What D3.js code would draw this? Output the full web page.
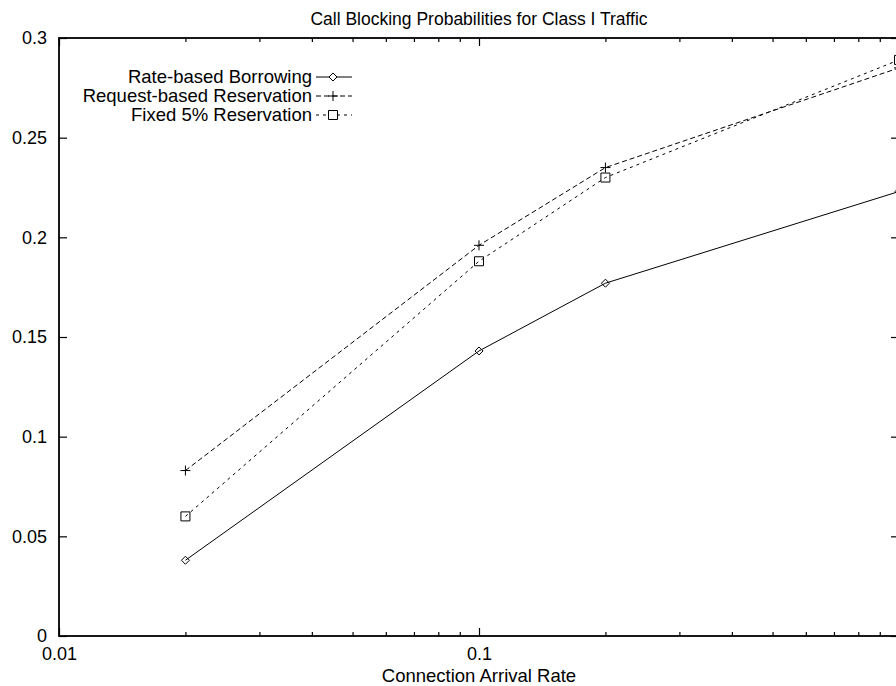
<!DOCTYPE html>
<html>
<head>
<meta charset="utf-8">
<script src="https://cdn.jsdelivr.net/npm/d3@7"></script>
<style>
  body { margin: 0; background: #fff; }
  svg { display: block; font-family: "Liberation Sans", Arial, Helvetica, sans-serif; }
</style>
</head>
<body>
<svg id="chart"></svg>
<script>
// data
const rates = [0.02, 0.1, 0.2, 1.0];
const rateBased = [0.038, 0.143, 0.177, 0.223];
const requestBased = [0.083, 0.196, 0.235, 0.285];
const fixed5 = [0.060, 0.188, 0.230, 0.289];

const seriesNames = ["Rate-based Borrowing", "Request-based Reservation", "Fixed 5% Reservation"];
const yTicks = [0, 0.05, 0.1, 0.15, 0.2, 0.25, 0.3];
const xMajor = [0.01, 0.1, 1];
const xLabelled = [0.01, 0.1];
const xMinor = [0.02, 0.03, 0.04, 0.05, 0.06, 0.07, 0.08, 0.09, 0.2, 0.3, 0.4, 0.5, 0.6, 0.7, 0.8, 0.9];

const width = 896, height = 686;
const margin = { top: 38, left: 59, bottom: 50, right: -3 };
const iwidth = width - margin.left - margin.right;
const iheight = height - margin.top - margin.bottom;
const tickFont = 18;
const labelFont = 18.5;

const svg = d3.select("#chart").attr("width", width).attr("height", height);
const g = svg.append("g").attr("transform", `translate(${margin.left},${margin.top})`);

const x = d3.scaleLog().domain([0.01, 1]).range([0, iwidth]);
const y = d3.scaleLinear().domain([0, 0.3]).range([iheight, 0]);

// axes, ticks pointing inward on all four sides
function styleAxis(sel) {
  sel.select(".domain").remove();
  sel.selectAll("line").attr("stroke", "#000").attr("stroke-width", 1.2);
  sel.selectAll("text").attr("fill", "#000").attr("font-size", tickFont).attr("font-family", "Liberation Sans, Arial, sans-serif");
}

g.append("g").attr("transform", `translate(0,${iheight})`)
  .call(d3.axisBottom(x).tickValues(xLabelled).tickSize(0).tickPadding(11).tickFormat(d3.format("")))
  .call(styleAxis);
g.append("g").attr("transform", `translate(0,${iheight})`)
  .call(d3.axisBottom(x).tickValues(xMajor).tickSize(-8).tickFormat(""))
  .call(styleAxis);
g.append("g").attr("transform", `translate(0,${iheight})`)
  .call(d3.axisBottom(x).tickValues(xMinor).tickSize(-4).tickFormat(""))
  .call(styleAxis);
g.append("g")
  .call(d3.axisTop(x).tickValues(xMajor).tickSize(-8).tickFormat(""))
  .call(styleAxis);
g.append("g")
  .call(d3.axisTop(x).tickValues(xMinor).tickSize(-4).tickFormat(""))
  .call(styleAxis);
g.append("g")
  .call(d3.axisLeft(y).tickValues(yTicks).tickSize(-8).tickPadding(12).tickFormat(d3.format("")))
  .call(styleAxis);
g.append("g").attr("transform", `translate(${iwidth},0)`)
  .call(d3.axisRight(y).tickValues(yTicks).tickSize(-8).tickFormat(""))
  .call(styleAxis);

// frame
g.append("rect")
  .attr("x", 0).attr("y", 0).attr("width", iwidth).attr("height", iheight)
  .attr("fill", "none").attr("stroke", "#000").attr("stroke-width", 1.8);

// titles
svg.append("text")
  .attr("x", margin.left + iwidth / 2).attr("y", 25)
  .attr("text-anchor", "middle").attr("font-size", 17.5)
  .text("Call Blocking Probabilities for Class I Traffic");
svg.append("text")
  .attr("x", margin.left + iwidth / 2).attr("y", 682)
  .attr("text-anchor", "middle").attr("font-size", labelFont)
  .text("Connection Arrival Rate");

// markers
const markers = {
  diamond: s => `M0,${-s}L${s},0L0,${s}L${-s},0Z`,
  plus: s => `M${-s},0H${s}M0,${-s}V${s}`,
  square: s => `M${-s},${-s}H${s}V${s}H${-s}Z`
};

const series = [
  { name: seriesNames[0], values: rateBased, dash: null, marker: "diamond", size: 4 },
  { name: seriesNames[1], values: requestBased, dash: "5,3", marker: "plus", size: 5 },
  { name: seriesNames[2], values: fixed5, dash: "3,4", marker: "square", size: 4.5 }
];

const line = d3.line().x(d => x(d[0])).y(d => y(d[1]));

series.forEach(s => {
  const pts = rates.map((r, i) => [r, s.values[i]]);
  g.append("path")
    .datum(pts)
    .attr("d", line)
    .attr("fill", "none")
    .attr("stroke", "#000")
    .attr("stroke-width", 1)
    .attr("stroke-dasharray", s.dash);
  g.selectAll(null).data(pts).enter().append("path")
    .attr("transform", d => `translate(${x(d[0])},${y(d[1])})`)
    .attr("d", markers[s.marker](s.size))
    .attr("fill", "none")
    .attr("stroke", "#000")
    .attr("stroke-width", 1);
});

// legend
const legend = svg.append("g").attr("transform", "translate(312,77)");
series.forEach((s, i) => {
  const row = legend.append("g").attr("transform", `translate(0,${i * 19})`);
  row.append("text")
    .attr("x", 0).attr("y", 6)
    .attr("text-anchor", "end").attr("font-size", labelFont)
    .text(s.name);
  row.append("line")
    .attr("x1", 4).attr("x2", 40).attr("y1", 0).attr("y2", 0)
    .attr("stroke", "#000").attr("stroke-width", 1)
    .attr("stroke-dasharray", s.dash);
  row.append("path")
    .attr("transform", "translate(21,0)")
    .attr("d", markers[s.marker](s.size))
    .attr("fill", "#fff")
    .attr("stroke", "#000")
    .attr("stroke-width", 1);
});
</script>
</body>
</html>
